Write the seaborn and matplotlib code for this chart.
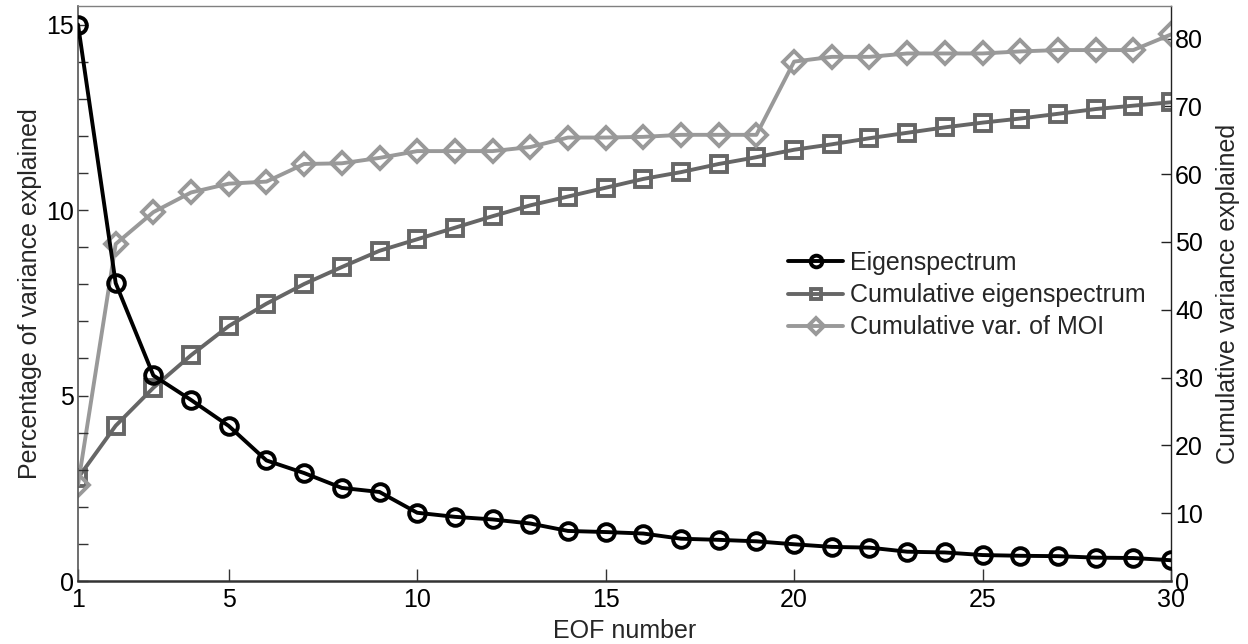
import matplotlib
matplotlib.use("Agg")
import matplotlib.pyplot as plt
from matplotlib.ticker import FixedLocator, FixedFormatter
import seaborn as sns
import pandas as pd

eof_number = list(range(1, 31))

eigenspectrum = [15.0, 8.03, 5.54, 4.88, 4.18, 3.25, 2.91, 2.51, 2.40, 1.84,
                 1.73, 1.66, 1.55, 1.35, 1.32, 1.28, 1.14, 1.11, 1.07, 0.99,
                 0.92, 0.90, 0.79, 0.77, 0.70, 0.68, 0.67, 0.63, 0.62, 0.56]

cumulative_eigenspectrum = [15.2, 22.9, 28.5, 33.3, 37.6, 40.9, 43.8, 46.3, 48.7, 50.4,
                            52.1, 53.8, 55.4, 56.7, 58.0, 59.3, 60.3, 61.5, 62.5, 63.6,
                            64.4, 65.3, 66.1, 66.9, 67.6, 68.2, 68.9, 69.6, 70.1, 70.6]

cumulative_moi = [14.2, 49.7, 54.4, 57.3, 58.6, 58.9, 61.5, 61.6, 62.4, 63.4,
                  63.4, 63.4, 64.0, 65.4, 65.4, 65.5, 65.8, 65.8, 65.8, 76.6,
                  77.3, 77.3, 77.8, 77.8, 77.8, 78.1, 78.3, 78.3, 78.3, 80.6]

series_labels = ["Eigenspectrum", "Cumulative eigenspectrum", "Cumulative var. of MOI"]
x_tick_values = [1, 5, 10, 15, 20, 25, 30]
left_tick_labels = ["0", "5", "10", "15"]
right_tick_values = [0, 10, 20, 30, 40, 50, 60, 70, 80]

df = pd.DataFrame({
    "eof": eof_number,
    "eig": eigenspectrum,
    "cum": cumulative_eigenspectrum,
    "moi": cumulative_moi,
})

sns.set_theme(style="white")
plt.rcParams["font.family"] = ["Liberation Sans", "DejaVu Sans"]

FS = 18

fig = plt.figure(figsize=(12.48, 6.44), dpi=100)
ax = fig.add_axes([0.0625, 0.0978, 0.8758, 0.8929])
ax2 = ax.twinx()

black = "#000000"
dark_gray = "#666666"
light_gray = "#999999"

common = dict(markerfacecolor="none", markersize=12, markeredgewidth=2.8,
              linewidth=2.8, legend=False)

sns.lineplot(data=df, x="eof", y="eig", ax=ax, color=black, marker="o",
             markeredgecolor=black, zorder=5, **common)
sns.lineplot(data=df, x="eof", y="cum", ax=ax2, color=dark_gray, marker="s",
             markeredgecolor=dark_gray, **dict(common, markersize=11))
sns.lineplot(data=df, x="eof", y="moi", ax=ax2, color=light_gray, marker="D",
             markeredgecolor=light_gray, **dict(common, markersize=11))

# draw the eigenspectrum on top of the twin axis
ax.set_zorder(ax2.get_zorder() + 1)
ax.patch.set_visible(False)

ax.set_xlim(1, 30)
ax.set_ylim(0, 15.5)
ax2.set_ylim(0, 84.8)

ax.xaxis.set_major_locator(FixedLocator(x_tick_values))
ax.set_xticklabels([str(v) for v in x_tick_values])

left_ticks = list(range(0, 16))
ax.yaxis.set_major_locator(FixedLocator(left_ticks))
ax.yaxis.set_major_formatter(FixedFormatter(
    [left_tick_labels[t // 5] if t % 5 == 0 else "" for t in left_ticks]))

ax2.yaxis.set_major_locator(FixedLocator(right_tick_values))
ax2.set_yticklabels([str(v) for v in right_tick_values])

ax.tick_params(axis="both", direction="in", length=7, width=1.0,
               labelsize=FS, colors="#333333", labelcolor="black", pad=4)
ax.tick_params(axis="y", left=True, right=False, pad=3)
ax.tick_params(axis="x", bottom=True, top=False, length=9, pad=5)
ax2.tick_params(axis="y", direction="in", length=7, width=1.0, labelsize=FS,
                colors="#222222", labelcolor="black", pad=3, right=True)

ax.set_xlabel("EOF number", fontsize=FS, labelpad=5)
ax.set_ylabel("Percentage of variance explained", fontsize=FS, labelpad=3)
ax2.set_ylabel("Cumulative variance explained", fontsize=FS, labelpad=9)

for side, col, lw in [("left", "#555555", 1.2), ("bottom", "#333333", 1.8),
                      ("top", "#808080", 1.0), ("right", "#222222", 1.0)]:
    ax.spines[side].set_color(col)
    ax.spines[side].set_linewidth(lw)
    ax2.spines[side].set_color(col)
    ax2.spines[side].set_linewidth(lw)
ax.spines["right"].set_visible(False)
ax2.spines["left"].set_visible(False)
ax2.spines["bottom"].set_visible(False)
ax2.spines["top"].set_visible(False)

handles = ax.get_lines()[:1] + ax2.get_lines()[:2]
leg = fig.legend(handles, series_labels, loc="upper left",
                 bbox_to_anchor=(788 / 1248, 1 - 251 / 644), frameon=False,
                 fontsize=FS, handlelength=2.2, handletextpad=0.3,
                 labelspacing=0.33, borderpad=0, borderaxespad=0, markerscale=0.7)

fig.savefig("out.png", dpi=100)
